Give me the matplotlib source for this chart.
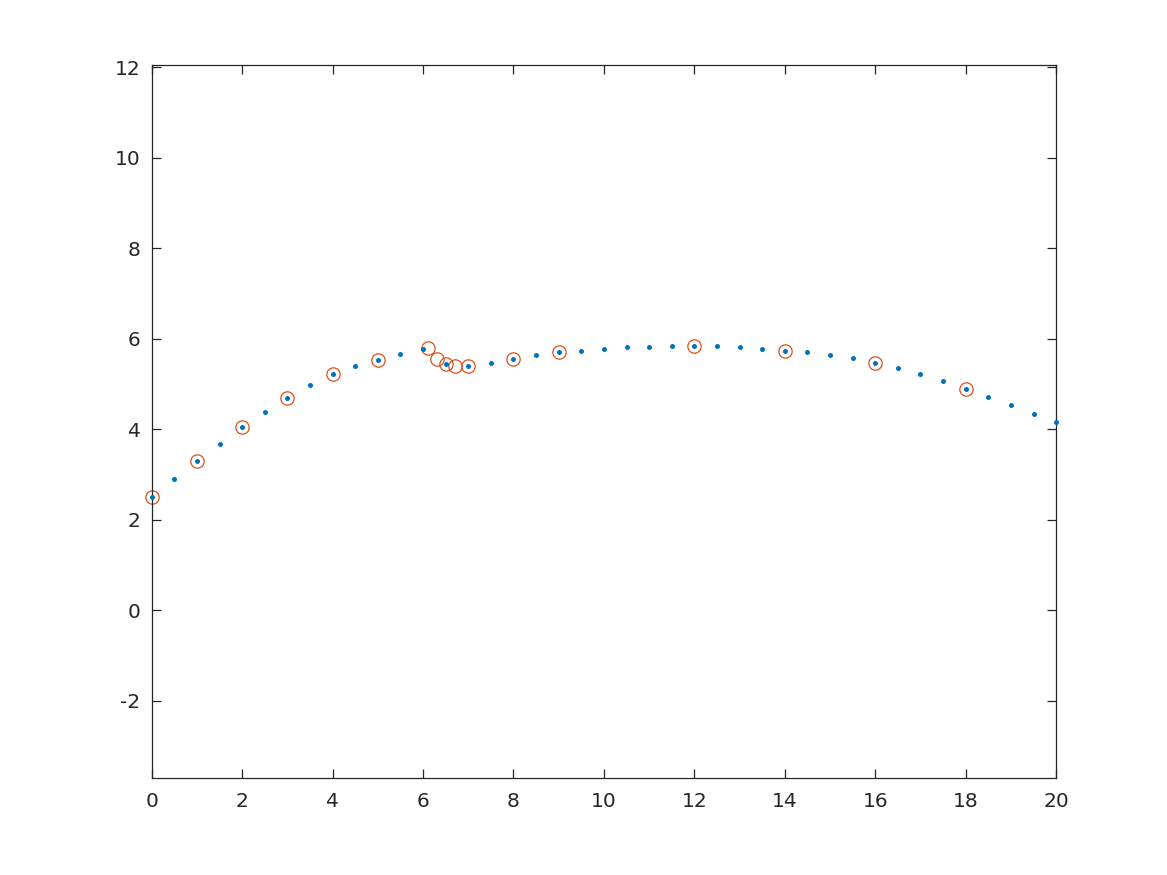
import matplotlib
matplotlib.use("Agg")
import matplotlib.pyplot as plt

# blue dots: x = 0:0.5:20
x_dots = [0, 0.5, 1, 1.5, 2, 2.5, 3, 3.5, 4, 4.5, 5, 5.5, 6, 6.5, 7, 7.5, 8, 8.5, 9, 9.5,
          10, 10.5, 11, 11.5, 12, 12.5, 13, 13.5, 14, 14.5, 15, 15.5, 16, 16.5, 17, 17.5,
          18, 18.5, 19, 19.5, 20]
y_dots = [2.50, 2.90, 3.29, 3.67, 4.04, 4.38, 4.69, 4.98, 5.22, 5.39, 5.53, 5.66, 5.78,
          5.44, 5.39, 5.47, 5.56, 5.65, 5.70, 5.74, 5.78, 5.81, 5.82, 5.84, 5.84, 5.83,
          5.81, 5.78, 5.74, 5.70, 5.65, 5.57, 5.47, 5.36, 5.22, 5.06, 4.89, 4.72, 4.53,
          4.34, 4.15]

# orange open circles
x_circ = [0, 1, 2, 3, 4, 5, 6.1, 6.3, 6.5, 6.7, 7, 8, 9, 12, 14, 16, 18]
y_circ = [2.50, 3.29, 4.04, 4.69, 5.22, 5.53, 5.79, 5.55, 5.44, 5.39, 5.39, 5.56, 5.70,
          5.84, 5.74, 5.47, 4.89]

xticks = [0, 2, 4, 6, 8, 10, 12, 14, 16, 18, 20]
yticks = [-2, 0, 2, 4, 6, 8, 10, 12]

ax_col = "#262626"
fig = plt.figure(figsize=(11.67, 8.75), dpi=100)
ax = fig.add_axes([0.13, 0.111, 0.775, 0.815])

ax.plot(x_dots, y_dots, linestyle="none", marker="o", markersize=3.6,
        color="#0072BD", markeredgewidth=0, clip_on=False, zorder=3)
ax.plot(x_circ, y_circ, linestyle="none", marker="o", markersize=9.6,
        markerfacecolor="none", markeredgecolor="#D95319", markeredgewidth=0.9,
        clip_on=False, zorder=2)

ax.set_xlim(0, 20)
ax.set_ylim(-3.71, 12.06)
ax.set_xticks(xticks)
ax.set_yticks(yticks)
ax.set_xticklabels([str(v) for v in xticks])
ax.set_yticklabels([str(v) for v in yticks])

for s in ax.spines.values():
    s.set_color(ax_col)
    s.set_linewidth(0.9)
ax.tick_params(direction="in", length=6.5, width=0.9, colors=ax_col,
               top=True, right=True, labelsize=14.5, labelcolor=ax_col)
ax.tick_params(axis="x", pad=10)
ax.tick_params(axis="y", pad=8)

fig.savefig("out.png", dpi=100)
